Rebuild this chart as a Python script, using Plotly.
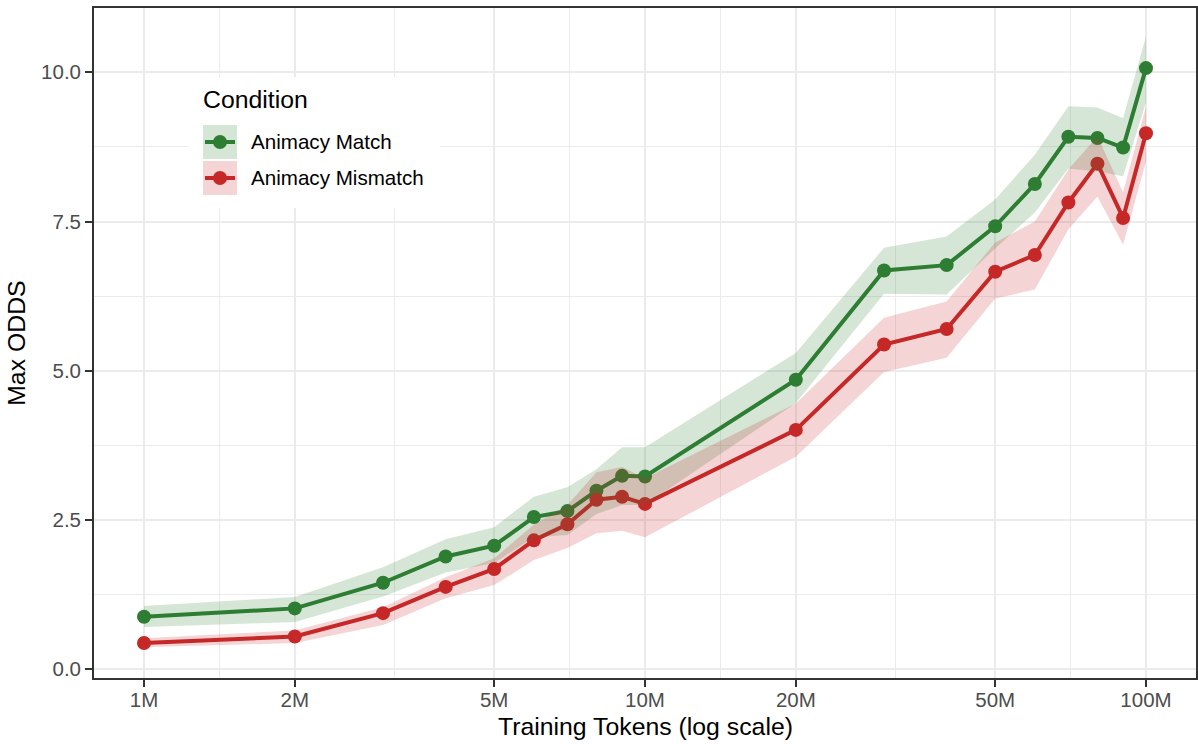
import math
import plotly.graph_objects as go

# ---------------- data ----------------
tokens_m = [1, 2, 3, 4, 5, 6, 7, 8, 9, 10, 20, 30, 40, 50, 60, 70, 80, 90, 100]

match_mean = [0.88, 1.02, 1.45, 1.89, 2.07, 2.55, 2.65, 2.99, 3.24, 3.23, 4.85, 6.68, 6.77, 7.42, 8.13, 8.92, 8.90, 8.74, 10.07]
match_upper = [1.06, 1.21, 1.71, 2.18, 2.38, 2.89, 3.05, 3.35, 3.72, 3.72, 5.30, 7.06, 7.25, 7.87, 8.62, 9.43, 9.41, 9.23, 10.60]
match_lower = [0.71, 0.79, 1.22, 1.62, 1.78, 2.21, 2.25, 2.60, 2.75, 2.75, 4.46, 6.29, 6.28, 7.05, 7.65, 8.39, 8.34, 8.26, 9.50]

mismatch_mean = [0.44, 0.55, 0.94, 1.38, 1.68, 2.16, 2.43, 2.84, 2.89, 2.77, 4.01, 5.44, 5.70, 6.66, 6.94, 7.82, 8.47, 7.56, 8.98]
mismatch_upper = [0.52, 0.65, 1.04, 1.54, 1.86, 2.42, 2.75, 3.30, 3.39, 3.20, 4.45, 5.89, 6.16, 7.15, 7.50, 8.37, 8.93, 7.99, 9.43]
mismatch_lower = [0.37, 0.44, 0.74, 1.19, 1.41, 1.83, 2.03, 2.28, 2.32, 2.21, 3.56, 4.98, 5.22, 6.21, 6.36, 7.37, 7.92, 7.11, 8.51]

x_tick_vals_m = [1, 2, 5, 10, 20, 50, 100]
x_tick_text = ["1M", "2M", "5M", "10M", "20M", "50M", "100M"]
y_tick_vals = [0, 2.5, 5, 7.5, 10]
y_tick_text = ["0.0", "2.5", "5.0", "7.5", "10.0"]

series_names = ["Animacy Match", "Animacy Mismatch"]
legend_title = "Condition"
x_title = "Training Tokens (log scale)"
y_title = "Max ODDS"

# ---------------- style ----------------
GREEN = "#2E7D32"
RED = "#C62828"
GREEN_FILL = "rgba(46,125,50,0.2)"
RED_FILL = "rgba(198,40,40,0.2)"
FONT = "Liberation Sans, Arial, Helvetica, sans-serif"
GRID = "#EBEBEB"
DARK = "#333333"

W, H = 1198, 744
ML, MR, MT, MB = 94, 2, 8, 66
PW, PH = W - ML - MR, H - MT - MB


def px(xp):
    return (xp - ML) / PW


def py(yp):
    return (H - MB - yp) / PH


x = [v * 1e6 for v in tokens_m]
xt = [v * 1e6 for v in x_tick_vals_m]
# ggplot-style minor breaks: geometric midpoints between major breaks
x_minor = [math.sqrt(a * b) for a, b in zip(xt[:-1], xt[1:])]
y_minor = [(a + b) / 2 for a, b in zip(y_tick_vals[:-1], y_tick_vals[1:])]

fig = go.Figure()

# lines
for mean, col in [(match_mean, GREEN), (mismatch_mean, RED)]:
    fig.add_trace(go.Scatter(x=x, y=mean, mode="lines", line=dict(color=col, width=4),
                             showlegend=False, hoverinfo="skip"))
# points
for mean, col, name in [(match_mean, GREEN, series_names[0]), (mismatch_mean, RED, series_names[1])]:
    fig.add_trace(go.Scatter(x=x, y=mean, mode="markers", name=name,
                             marker=dict(color=col, size=14, line=dict(width=0)),
                             showlegend=False))
# ribbons (drawn on top, translucent)
for up, lo, fc in [(match_upper, match_lower, GREEN_FILL), (mismatch_upper, mismatch_lower, RED_FILL)]:
    fig.add_trace(go.Scatter(x=x + x[::-1], y=up + lo[::-1], fill="toself", fillcolor=fc,
                             mode="lines", line=dict(width=0, color="rgba(0,0,0,0)"),
                             showlegend=False, hoverinfo="skip"))

axis_common = dict(
    showgrid=True, gridcolor=GRID, gridwidth=1.8, zeroline=False,
    showline=True, mirror=True, linecolor=DARK, linewidth=1.8,
    ticks="outside", ticklen=7, tickwidth=1.8, tickcolor=DARK,
    tickfont=dict(family=FONT, size=20.5, color="#4D4D4D"),
    automargin=False,
)

fig.update_xaxes(type="log",
                 range=[6 - 0.0998, 8 + 0.0998],
                 tickvals=xt, ticktext=x_tick_text,
                 ticklabelstandoff=-5,
                 minor=dict(tickvals=x_minor, showgrid=True, gridcolor=GRID, gridwidth=0.9, ticks=""),
                 **axis_common)
fig.update_yaxes(range=[-0.146, 11.077],
                 tickvals=y_tick_vals, ticktext=y_tick_text,
                 minor=dict(tickvals=y_minor, showgrid=True, gridcolor=GRID, gridwidth=0.9, ticks=""),
                 **axis_common)

# manual ggplot-like legend
shapes = [
    dict(type="rect", xref="paper", yref="paper", x0=px(188), x1=px(440), y0=py(208), y1=py(77),
         fillcolor="white", line=dict(width=0), layer="above"),
]
annotations = [
    dict(text=legend_title, xref="paper", yref="paper", x=px(200.5), y=py(100), xanchor="left",
         yanchor="middle", showarrow=False, font=dict(family=FONT, size=24.8, color="black")),
    dict(text=x_title, xref="paper", yref="paper", x=px(645), y=py(726), xanchor="center",
         yanchor="middle", showarrow=False, font=dict(family=FONT, size=24.8, color="black")),
    dict(text=y_title, xref="paper", yref="paper", x=px(15.8), y=0.5, xanchor="center",
         yanchor="middle", textangle=-90, showarrow=False,
         font=dict(family=FONT, size=24.8, color="black")),
]
key_rows = [(142, GREEN, GREEN_FILL, series_names[0]), (178, RED, RED_FILL, series_names[1])]
for i, (cy, col, fc, name) in enumerate(key_rows):
    top = 125 + i * 36
    shapes.append(dict(type="rect", xref="paper", yref="paper", x0=px(203), x1=px(237),
                       y0=py(top + 34), y1=py(top), fillcolor=fc, line=dict(width=0), layer="above"))
    shapes.append(dict(type="line", xref="paper", yref="paper", x0=px(205), x1=px(235),
                       y0=py(cy), y1=py(cy), line=dict(color=col, width=4), layer="above"))
    shapes.append(dict(type="circle", xref="paper", yref="paper", xsizemode="pixel", ysizemode="pixel",
                       xanchor=px(220), yanchor=py(cy), x0=-7, x1=7, y0=-7, y1=7,
                       fillcolor=col, line=dict(width=0), layer="above"))
    annotations.append(dict(text=name, xref="paper", yref="paper", x=px(249), y=py(cy),
                            xanchor="left", yanchor="middle", showarrow=False,
                            font=dict(family=FONT, size=20.6, color="black")))

fig.update_layout(
    width=W, height=H,
    margin=dict(l=ML, r=MR, t=MT, b=MB, autoexpand=False),
    paper_bgcolor="white", plot_bgcolor="white",
    font=dict(family=FONT),
    showlegend=False,
    shapes=shapes, annotations=annotations,
)

fig.write_html(
    "out.html",
    config={"displayModeBar": False},
    post_script="document.body.style.margin='0px';document.body.style.overflow='hidden';",
)
